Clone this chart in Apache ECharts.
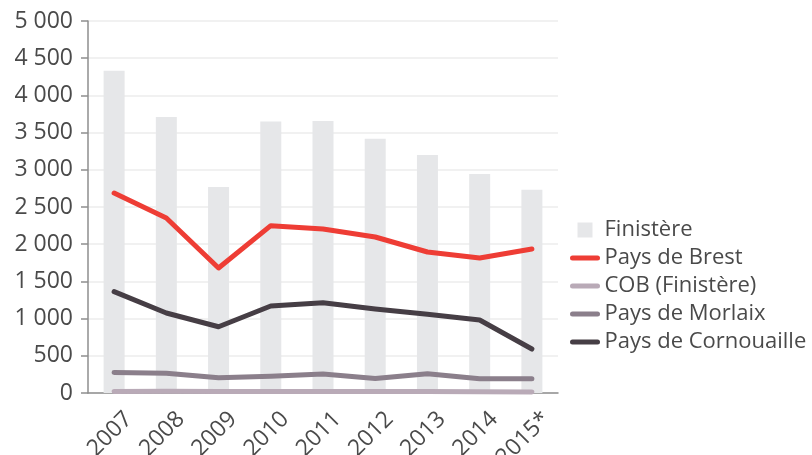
<!DOCTYPE html>
<html><head><meta charset="utf-8">
<script src="https://cdn.jsdelivr.net/npm/echarts@6/dist/echarts.min.js"></script>
<style>html,body{margin:0;padding:0;background:#fff}#c{width:812px;height:455px}</style>
</head><body><div id="c"></div>
<script>
var years = ['2007','2008','2009','2010','2011','2012','2013','2014','2015*'];
var finistere = [4330, 3710, 2770, 3650, 3656, 3418, 3199, 2943, 2733];
var brest = [2688, 2352, 1680, 2249, 2204, 2097, 1895, 1814, 1935];
var cob = [20, 22, 20, 20, 20, 20, 20, 18, 15];
var morlaix = [277, 265, 205, 225, 255, 196, 259, 193, 193];
var cornouaille = [1362, 1075, 891, 1169, 1214, 1129, 1057, 981, 591];

var FONT = '"Open Sans", sans-serif';
var TXT = '#4a4a4a';
function fmt(v){ return String(v).replace(/\B(?=(\d{3})+(?!\d))/g, ' '); }
function line(name, data, color){
  return {name:name, type:'line', data:data, symbol:'none', smooth:false,
    lineStyle:{color:color, width:5, cap:'round', join:'round'}, itemStyle:{color:color}, z:3};
}
function legLine(name){
  return {name:name, itemStyle:{opacity:0}, lineStyle:{width:5, cap:'round'}};
}
var chart = echarts.init(document.getElementById('c'));
chart.setOption({
  animation:false,
  grid:{left:88, right:254, top:21, bottom:62, containLabel:false, outerBoundsMode:'none'},
  legend:{orient:'vertical', left:565, top:214, itemGap:6, itemWidth:25, itemHeight:15,
    textStyle:{fontFamily:FONT, fontSize:22, lineHeight:22, color:TXT, padding:[0,0,0,2]},
    data:[{name:'Finistère', icon:'path://M0,0L10,0L10,10L0,10Z'}, legLine('Pays de Brest'), legLine('COB (Finistère)'), legLine('Pays de Morlaix'), legLine('Pays de Cornouaille')]},
  xAxis:{type:'category', data:years, boundaryGap:true,
    axisLine:{lineStyle:{color:'#8e8e8e', width:1.5}},
    axisTick:{length:8, lineStyle:{color:'#8e8e8e', width:1.5}},
    axisLabel:{rotate:45, fontFamily:FONT, fontSize:23, lineHeight:23, color:TXT, margin:8, interval:0,
      align:'right', verticalAlign:'top', padding:[9,0,0,0]}},
  yAxis:{type:'value', min:0, max:5000, interval:500,
    axisLine:{show:true, lineStyle:{color:'#8e8e8e', width:1.5}},
    axisTick:{show:true, length:7, lineStyle:{color:'#8e8e8e', width:1.5}},
    splitLine:{lineStyle:{color:'#ececec', width:1.5}},
    axisLabel:{fontFamily:FONT, fontSize:23, color:TXT, margin:15, formatter:fmt}},
  series:[
    {name:'Finistère', type:'bar', data:finistere, barWidth:21, itemStyle:{color:'#e6e7e9'}, z:1},
    line('Pays de Brest', brest, '#ee3d35'),
    line('COB (Finistère)', cob, '#b9aab7'),
    line('Pays de Morlaix', morlaix, '#8b7f8b'),
    line('Pays de Cornouaille', cornouaille, '#463e45')
  ]
});
</script></body></html>
